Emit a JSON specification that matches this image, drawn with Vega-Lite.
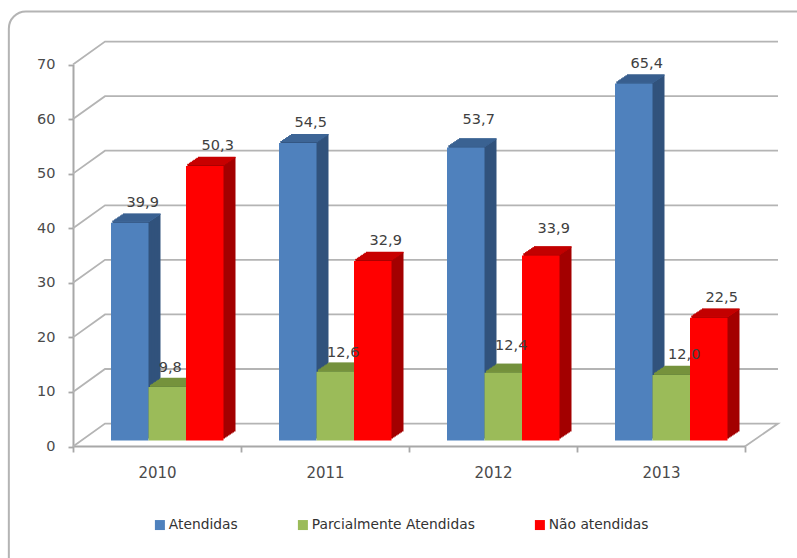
{"$schema":"https://vega.github.io/schema/vega-lite/v6.json","width":797,"height":558,"padding":0,"autosize":"none","background":"white","config":{"view":{"stroke":null},"font":"DejaVu Sans"},
"datasets":{"bars":[
{"ano":"2010","serie":"Atendidas","valor":39.9,"rotulo":"39,9"},{"ano":"2010","serie":"Parcialmente Atendidas","valor":9.8,"rotulo":"9,8"},{"ano":"2010","serie":"Não atendidas","valor":50.3,"rotulo":"50,3"},
{"ano":"2011","serie":"Atendidas","valor":54.5,"rotulo":"54,5"},{"ano":"2011","serie":"Parcialmente Atendidas","valor":12.6,"rotulo":"12,6"},{"ano":"2011","serie":"Não atendidas","valor":32.9,"rotulo":"32,9"},
{"ano":"2012","serie":"Atendidas","valor":53.7,"rotulo":"53,7"},{"ano":"2012","serie":"Parcialmente Atendidas","valor":12.4,"rotulo":"12,4"},{"ano":"2012","serie":"Não atendidas","valor":33.9,"rotulo":"33,9"},
{"ano":"2013","serie":"Atendidas","valor":65.4,"rotulo":"65,4"},{"ano":"2013","serie":"Parcialmente Atendidas","valor":12.0,"rotulo":"12,0"},{"ano":"2013","serie":"Não atendidas","valor":22.5,"rotulo":"22,5"}],
"wall":[
{"g":0,"p":0,"gx":0,"gy":0},{"g":0,"p":1,"gx":0.0454,"gy":4.2},{"g":0,"p":2,"gx":1,"gy":4.2},{"g":0,"p":3,"gx":0.953,"gy":0},
{"g":10,"p":0,"gx":0,"gy":10},{"g":10,"p":1,"gx":0.0454,"gy":14.2},{"g":10,"p":2,"gx":1,"gy":14.2},
{"g":20,"p":0,"gx":0,"gy":20},{"g":20,"p":1,"gx":0.0454,"gy":24.2},{"g":20,"p":2,"gx":1,"gy":24.2},
{"g":30,"p":0,"gx":0,"gy":30},{"g":30,"p":1,"gx":0.0454,"gy":34.2},{"g":30,"p":2,"gx":1,"gy":34.2},
{"g":40,"p":0,"gx":0,"gy":40},{"g":40,"p":1,"gx":0.0454,"gy":44.2},{"g":40,"p":2,"gx":1,"gy":44.2},
{"g":50,"p":0,"gx":0,"gy":50},{"g":50,"p":1,"gx":0.0454,"gy":54.2},{"g":50,"p":2,"gx":1,"gy":54.2},
{"g":60,"p":0,"gx":0,"gy":60},{"g":60,"p":1,"gx":0.0454,"gy":64.2},{"g":60,"p":2,"gx":1,"gy":64.2},
{"g":70,"p":0,"gx":0,"gy":70},{"g":70,"p":1,"gx":0.0454,"gy":74.2},{"g":70,"p":2,"gx":1,"gy":74.2}],
"frame":[{"a":-0.091,"b":1.05,"c":79.7,"d":-25}]},
"resolve":{"scale":{"x":"independent"},"legend":{"color":"independent"}},
"layer":[
{"data":{"name":"frame"},"mark":{"type":"rect","fill":"transparent","stroke":"#b4b4b4","strokeWidth":2,"cornerRadius":17,"clip":false},
"encoding":{"x":{"field":"a","type":"quantitative","axis":null,"scale":{"domain":[0,1],"range":[73,778]}},"x2":{"field":"b"},"y":{"field":"c","type":"quantitative","title":null,"scale":{"domain":[0,70],"range":[446.5,64.5],"nice":false},"axis":{"values":[0,10,20,30,40,50,60,70],"orient":"left","offset":-73,"labelFontSize":14.5,"labelColor":"#4a4a4a","labelPadding":13,"domainColor":"#a8a8a8","domainWidth":2,"tickColor":"#a8a8a8","tickWidth":1.8,"tickSize":5,"grid":false,"title":null}},"y2":{"field":"d"}}},
{"data":{"name":"wall"},"mark":{"type":"line","stroke":"#b4b4b4","strokeWidth":1.8},
"encoding":{"x":{"field":"gx","type":"quantitative","axis":null,"scale":{"domain":[0,1],"range":[73,778]}},"y":{"field":"gy","type":"quantitative","title":null},"detail":{"field":"g"},"order":{"field":"p"}}},
{"data":{"name":"bars"},
"resolve":{"scale":{"xOffset":"independent"},"legend":{"color":"independent"}},
"encoding":{
"x":{"field":"ano","type":"nominal","title":null,"scale":{"type":"band","domain":["2010","2011","2012","2013"],"range":[73,745],"paddingInner":0,"paddingOuter":0},"axis":{"orient":"bottom","offset":-112,"tickBand":"extent","labelAngle":0,"labelFontSize":15,"labelColor":"#4a4a4a","labelPadding":13,"domainColor":"#a8a8a8","domainWidth":2,"tickColor":"#a8a8a8","tickWidth":1.8,"tickSize":6,"title":null}},
"y":{"field":"valor","type":"quantitative","stack":null,"title":null}},
"layer":[
{"mark":{"type":"bar","yOffset":-15,"y2Offset":-15},"encoding":{"y2":{"datum":0},"xOffset":{"field":"serie","scale":{"type":"band","domain":["Atendidas","Parcialmente Atendidas","Não atendidas"],"range":[50,162.5]}},"fill":{"field":"serie","legend":null,"scale":{"domain":["Atendidas","Parcialmente Atendidas","Não atendidas"],"range":["#31527c","#6b8a3e","#a30000"]}}}},
{"mark":{"type":"bar","yOffset":-14.5,"y2Offset":-14.5,"fill":"#000","fillOpacity":0,"strokeWidth":1.4},"encoding":{"xOffset":{"field":"serie","scale":{"type":"band","domain":["Atendidas","Parcialmente Atendidas","Não atendidas"],"range":[50,162.5]}},"y2":{"field":"valor"},"stroke":{"field":"serie","legend":null,"scale":{"domain":["Atendidas","Parcialmente Atendidas","Não atendidas"],"range":["#3d6596","#76923c","#c80000"]}}}},
{"mark":{"type":"bar","yOffset":-14,"y2Offset":-14},"encoding":{"y2":{"datum":0},"xOffset":{"field":"serie","scale":{"type":"band","domain":["Atendidas","Parcialmente Atendidas","Não atendidas"],"range":[48.5,161]}},"fill":{"field":"serie","legend":null}}},
{"mark":{"type":"bar","yOffset":-13.5,"y2Offset":-13.5,"fill":"#000","fillOpacity":0,"strokeWidth":1.4},"encoding":{"xOffset":{"field":"serie","scale":{"type":"band","domain":["Atendidas","Parcialmente Atendidas","Não atendidas"],"range":[48.5,161]}},"y2":{"field":"valor"},"stroke":{"field":"serie","legend":null}}},
{"mark":{"type":"bar","yOffset":-13,"y2Offset":-13},"encoding":{"y2":{"datum":0},"xOffset":{"field":"serie","scale":{"type":"band","domain":["Atendidas","Parcialmente Atendidas","Não atendidas"],"range":[47,159.5]}},"fill":{"field":"serie","legend":null}}},
{"mark":{"type":"bar","yOffset":-12.5,"y2Offset":-12.5,"fill":"#000","fillOpacity":0,"strokeWidth":1.4},"encoding":{"xOffset":{"field":"serie","scale":{"type":"band","domain":["Atendidas","Parcialmente Atendidas","Não atendidas"],"range":[47,159.5]}},"y2":{"field":"valor"},"stroke":{"field":"serie","legend":null}}},
{"mark":{"type":"bar","yOffset":-12,"y2Offset":-12},"encoding":{"y2":{"datum":0},"xOffset":{"field":"serie","scale":{"type":"band","domain":["Atendidas","Parcialmente Atendidas","Não atendidas"],"range":[45.5,158]}},"fill":{"field":"serie","legend":null}}},
{"mark":{"type":"bar","yOffset":-11.5,"y2Offset":-11.5,"fill":"#000","fillOpacity":0,"strokeWidth":1.4},"encoding":{"xOffset":{"field":"serie","scale":{"type":"band","domain":["Atendidas","Parcialmente Atendidas","Não atendidas"],"range":[45.5,158]}},"y2":{"field":"valor"},"stroke":{"field":"serie","legend":null}}},
{"mark":{"type":"bar","yOffset":-11,"y2Offset":-11},"encoding":{"y2":{"datum":0},"xOffset":{"field":"serie","scale":{"type":"band","domain":["Atendidas","Parcialmente Atendidas","Não atendidas"],"range":[44,156.5]}},"fill":{"field":"serie","legend":null}}},
{"mark":{"type":"bar","yOffset":-10.5,"y2Offset":-10.5,"fill":"#000","fillOpacity":0,"strokeWidth":1.4},"encoding":{"xOffset":{"field":"serie","scale":{"type":"band","domain":["Atendidas","Parcialmente Atendidas","Não atendidas"],"range":[44,156.5]}},"y2":{"field":"valor"},"stroke":{"field":"serie","legend":null}}},
{"mark":{"type":"bar","yOffset":-10,"y2Offset":-10},"encoding":{"y2":{"datum":0},"xOffset":{"field":"serie","scale":{"type":"band","domain":["Atendidas","Parcialmente Atendidas","Não atendidas"],"range":[42.5,155]}},"fill":{"field":"serie","legend":null}}},
{"mark":{"type":"bar","yOffset":-9.5,"y2Offset":-9.5,"fill":"#000","fillOpacity":0,"strokeWidth":1.4},"encoding":{"xOffset":{"field":"serie","scale":{"type":"band","domain":["Atendidas","Parcialmente Atendidas","Não atendidas"],"range":[42.5,155]}},"y2":{"field":"valor"},"stroke":{"field":"serie","legend":null}}},
{"mark":{"type":"bar","yOffset":-9,"y2Offset":-9},"encoding":{"y2":{"datum":0},"xOffset":{"field":"serie","scale":{"type":"band","domain":["Atendidas","Parcialmente Atendidas","Não atendidas"],"range":[41,153.5]}},"fill":{"field":"serie","legend":null}}},
{"mark":{"type":"bar","yOffset":-8.5,"y2Offset":-8.5,"fill":"#000","fillOpacity":0,"strokeWidth":1.4},"encoding":{"xOffset":{"field":"serie","scale":{"type":"band","domain":["Atendidas","Parcialmente Atendidas","Não atendidas"],"range":[41,153.5]}},"y2":{"field":"valor"},"stroke":{"field":"serie","legend":null}}},
{"mark":{"type":"bar","yOffset":-8,"y2Offset":-8},"encoding":{"y2":{"datum":0},"xOffset":{"field":"serie","scale":{"type":"band","domain":["Atendidas","Parcialmente Atendidas","Não atendidas"],"range":[39.5,152]}},"fill":{"field":"serie","legend":null}}},
{"mark":{"type":"bar","yOffset":-7.5,"y2Offset":-7.5,"fill":"#000","fillOpacity":0,"strokeWidth":1.4},"encoding":{"xOffset":{"field":"serie","scale":{"type":"band","domain":["Atendidas","Parcialmente Atendidas","Não atendidas"],"range":[39.5,152]}},"y2":{"field":"valor"},"stroke":{"field":"serie","legend":null}}},
{"mark":{"type":"bar","yOffset":-6,"y2Offset":-6},"encoding":{"y2":{"datum":0},"xOffset":{"field":"serie","scale":{"type":"band","domain":["Atendidas","Parcialmente Atendidas","Não atendidas"],"range":[38,150.5]}},"color":{"field":"serie","title":null,"scale":{"domain":["Atendidas","Parcialmente Atendidas","Não atendidas"],"range":["#4f81bd","#9bbb59","#ff0000"]},"legend":{"orient":"none","legendX":153,"legendY":518,"direction":"horizontal","columns":3,"columnPadding":58,"symbolType":"square","symbolSize":100,"symbolStrokeWidth":0,"labelFontSize":13.8,"labelLimit":300,"labelColor":"#333333","labelOffset":2,"title":null}}}},
{"transform":[{"filter":"datum.ano != '2012' && datum.rotulo != '9,8' && datum.rotulo != '12,6'"}],"mark":{"type":"text","dx":13,"dy":-26,"fontSize":14.5,"fill":"#404040","baseline":"middle","align":"center"},"encoding":{"xOffset":{"field":"serie","scale":{"type":"band","domain":["Atendidas","Parcialmente Atendidas","Não atendidas"],"range":[38,150.5]}},"text":{"field":"rotulo"}}},
{"transform":[{"filter":"datum.ano == '2012' && datum.rotulo != '12,4'"}],"mark":{"type":"text","dx":13,"dy":-33,"fontSize":14.5,"fill":"#404040","baseline":"middle","align":"center"},"encoding":{"xOffset":{"field":"serie","scale":{"type":"band","domain":["Atendidas","Parcialmente Atendidas","Não atendidas"],"range":[38,150.5]}},"text":{"field":"rotulo"}}},
{"transform":[{"filter":"datum.rotulo == '12,4'"}],"mark":{"type":"text","dx":8,"dy":-33,"fontSize":14.5,"fill":"#404040","baseline":"middle","align":"center"},"encoding":{"xOffset":{"field":"serie","scale":{"type":"band","domain":["Atendidas","Parcialmente Atendidas","Não atendidas"],"range":[38,150.5]}},"text":{"field":"rotulo"}}},
{"transform":[{"filter":"datum.rotulo == '12,6'"}],"mark":{"type":"text","dx":8,"dy":-25,"fontSize":14.5,"fill":"#404040","baseline":"middle","align":"center"},"encoding":{"xOffset":{"field":"serie","scale":{"type":"band","domain":["Atendidas","Parcialmente Atendidas","Não atendidas"],"range":[38,150.5]}},"text":{"field":"rotulo"}}},
{"transform":[{"filter":"datum.rotulo == '9,8'"}],"mark":{"type":"text","dx":3,"dy":-25,"fontSize":14.5,"fill":"#404040","baseline":"middle","align":"center"},"encoding":{"xOffset":{"field":"serie","scale":{"type":"band","domain":["Atendidas","Parcialmente Atendidas","Não atendidas"],"range":[38,150.5]}},"text":{"field":"rotulo"}}}
]}
]}
